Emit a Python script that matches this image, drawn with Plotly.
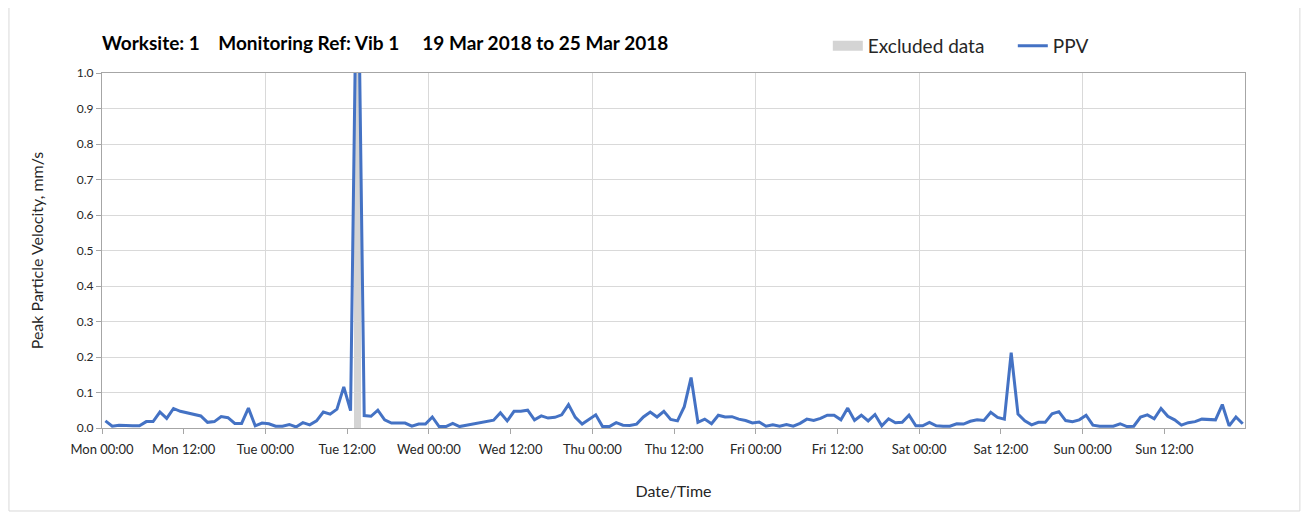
import plotly.graph_objects as go
import pandas as pd

# Hourly PPV readings (mm/s), Mon 19 Mar 2018 00:30 onwards
ppv = [
    0.020, 0.005, 0.008, 0.006, 0.006, 0.006, 0.018, 0.018, 0.045, 0.027, 0.055, 0.047,
    0.043, 0.037, 0.034, 0.016, 0.018, 0.032, 0.029, 0.013, 0.013, 0.056, 0.006, 0.014,
    0.012, 0.005, 0.005, 0.010, 0.003, 0.015, 0.009, 0.020, 0.045, 0.039, 0.053, 0.116,
    0.049, 1.500, 0.035, 0.033, 0.050, 0.023, 0.014, 0.014, 0.014, 0.005, 0.011, 0.011,
    0.031, 0.004, 0.004, 0.013, 0.004, 0.008, 0.011, 0.016, 0.018, 0.022, 0.043, 0.020,
    0.047, 0.047, 0.050, 0.023, 0.034, 0.028, 0.030, 0.037, 0.066, 0.030, 0.011, 0.023,
    0.037, 0.004, 0.004, 0.015, 0.008, 0.007, 0.011, 0.031, 0.045, 0.031, 0.047, 0.024,
    0.020, 0.060, 0.142, 0.016, 0.025, 0.012, 0.036, 0.031, 0.032, 0.025, 0.021, 0.014,
    0.017, 0.005, 0.009, 0.005, 0.010, 0.005, 0.013, 0.025, 0.021, 0.027, 0.036, 0.036,
    0.023, 0.056, 0.021, 0.036, 0.020, 0.038, 0.006, 0.026, 0.015, 0.016, 0.036, 0.006,
    0.006, 0.016, 0.006, 0.005, 0.005, 0.012, 0.011, 0.019, 0.023, 0.021, 0.044, 0.030,
    0.025, 0.212, 0.039, 0.020, 0.009, 0.016, 0.016, 0.040, 0.046, 0.021, 0.018, 0.023,
    0.036, 0.008, 0.005, 0.005, 0.005, 0.012, 0.004, 0.005, 0.031, 0.037, 0.026, 0.055,
    0.033, 0.023, 0.008, 0.015, 0.018, 0.025, 0.023, 0.023, 0.066, 0.006, 0.031, 0.012,
]
times = pd.date_range("2018-03-19 00:30", periods=len(ppv), freq="h")

# Excluded data period
excluded_times = ["2018-03-20 13:30"]
excluded_vals = [1.0]

NB = "\u00a0"
title_text = ("Worksite: 1" + NB * 4 + "Monitoring Ref: Vib 1" + NB * 5
              + "19 Mar 2018 to 25 Mar 2018")
x_range = ["2018-03-19 00:00", "2018-03-25 23:50"]

FONT = "Lato"
EXCL_COLOR = "#d4d4d4"
fig = go.Figure()
fig.add_trace(go.Bar(
    x=excluded_times, y=excluded_vals, width=3600000, name="Excluded data",
    marker=dict(color=EXCL_COLOR, line=dict(width=0)), showlegend=False,
))
# legend-only entry so the swatch is a wide rectangle
fig.add_trace(go.Scatter(
    x=[None], y=[None], mode="lines", name="Excluded data",
    line=dict(color=EXCL_COLOR, width=12), hoverinfo="skip",
))
fig.add_trace(go.Scatter(
    x=times, y=ppv, mode="lines", name="PPV",
    line=dict(color="#4472C4", width=3),
))
# overlay axis used only for daily vertical gridlines
fig.add_trace(go.Scatter(x=[x_range[0]], y=[None], xaxis="x2", showlegend=False,
                         hoverinfo="skip"))

fig.update_layout(
    width=1309, height=525,
    paper_bgcolor="white", plot_bgcolor="white",
    margin=dict(l=94, r=72, t=65, b=105),
    font=dict(family=FONT, color="#262626"),
    title=dict(text="<b>" + title_text + "</b>", x=0.0, xref="paper", xanchor="left",
               y=1 - 35 / 525, yref="container", yanchor="middle",
               font=dict(size=19, color="#000000", family=FONT)),
    legend=dict(orientation="h", x=0.635, xanchor="left", y=1.076, yanchor="middle",
                font=dict(size=19, color="#262626"), traceorder="normal",
                entrywidth=140, entrywidthmode="pixels",
                bgcolor="rgba(0,0,0,0)"),
    bargap=0,
    showlegend=True,
    xaxis=dict(
        type="date", range=x_range, tick0="2018-03-19", dtick=43200000,
        tickformat="%a %H:%M", showgrid=False, zeroline=False,
        ticks="outside", ticklen=5, tickcolor="#a6a6a6", ticklabelstandoff=4,
        showline=True, linecolor="#a6a6a6", linewidth=1, mirror=True,
        tickfont=dict(size=13, color="#262626"),
        title=dict(text="Date/Time", font=dict(size=16, color="#262626"), standoff=30),
    ),
    xaxis2=dict(
        type="date", range=x_range, overlaying="x", side="bottom",
        tick0="2018-03-19", dtick=86400000, showticklabels=False, ticks="",
        showgrid=True, gridcolor="#d9d9d9", gridwidth=1, zeroline=False, showline=False,
    ),
    yaxis=dict(
        range=[0, 1.0], dtick=0.1, tickformat=".1f", showgrid=True,
        gridcolor="#d9d9d9", gridwidth=1, zeroline=False,
        ticks="outside", ticklen=5, tickcolor="#a6a6a6",
        showline=True, linecolor="#a6a6a6", linewidth=1, mirror=True,
        tickfont=dict(size=12, color="#262626"),
        title=dict(text="Peak Particle Velocity, mm/s", font=dict(size=16, color="#262626"),
                   standoff=29),
    ),
    shapes=[dict(type="rect", xref="paper", yref="paper",
                 x0=-0.0814, x1=1.048, y0=-0.2338, y1=1.203,
                 line=dict(color="#d9d9d9", width=1), layer="below")],
)

fig.write_html("out.html")
